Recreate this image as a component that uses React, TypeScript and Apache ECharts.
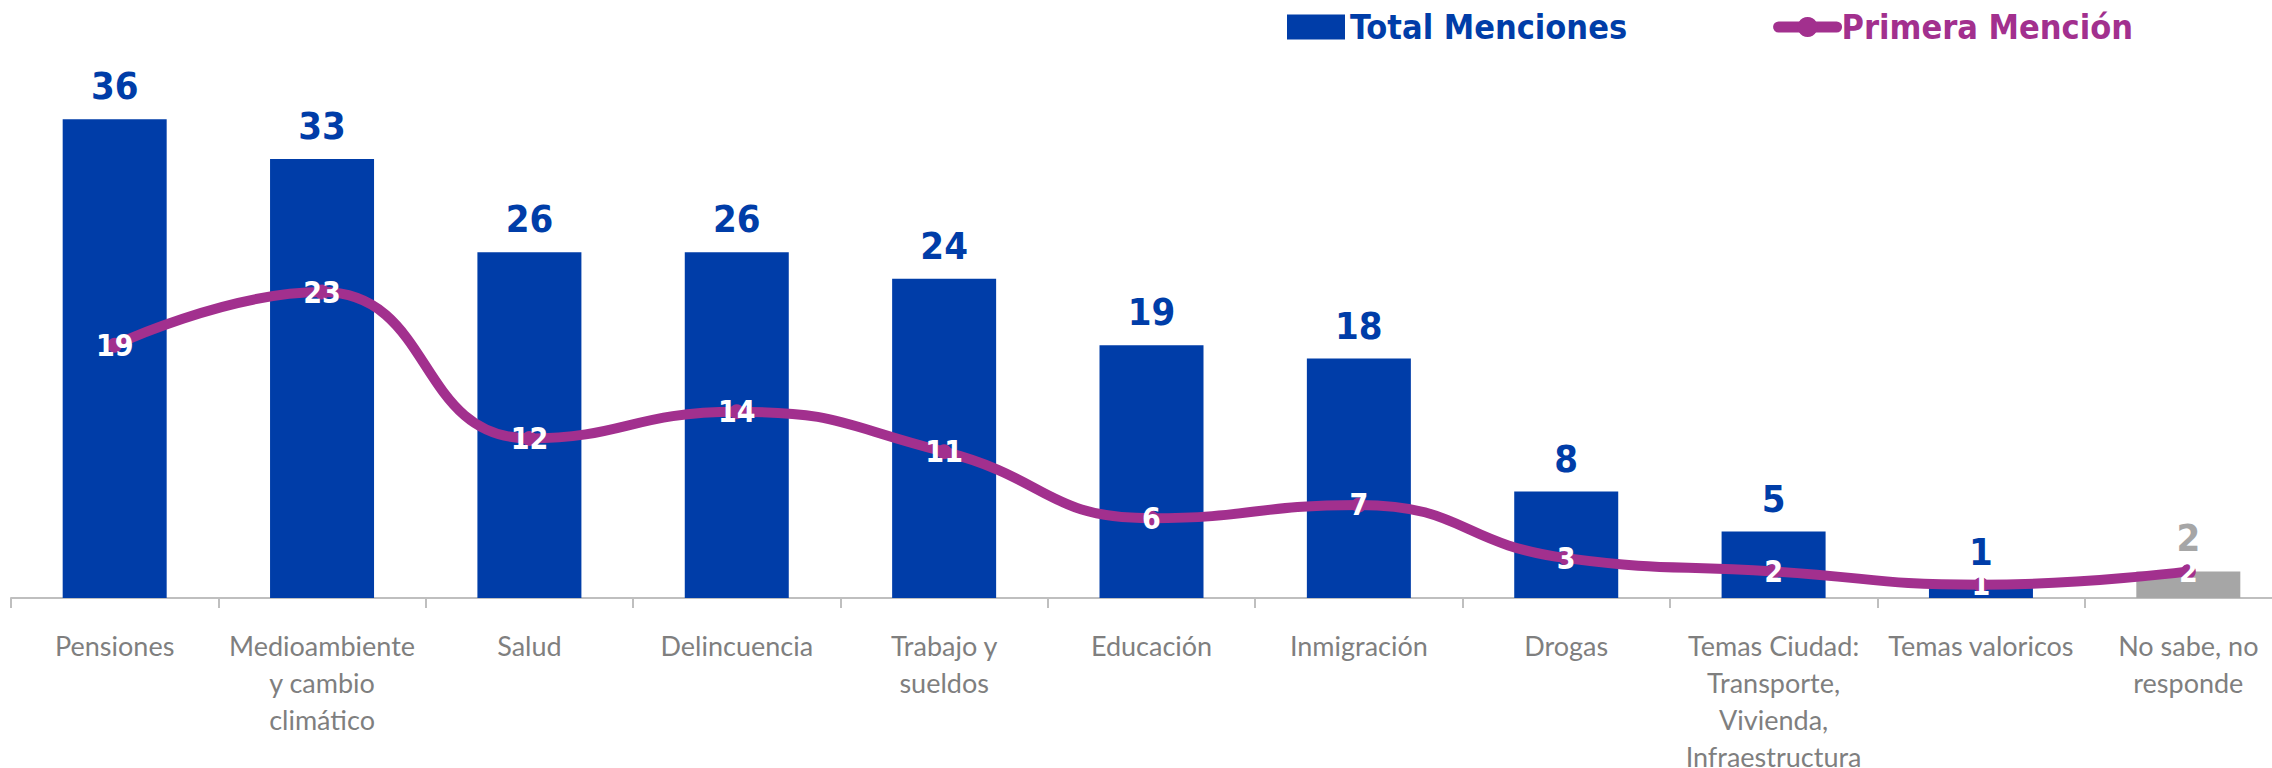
import React, { useEffect, useRef } from "react";
import * as echarts from "echarts";

const categories = [
  "Pensiones",
  "Medioambiente\ny cambio\nclimático",
  "Salud",
  "Delincuencia",
  "Trabajo y\nsueldos",
  "Educación",
  "Inmigración",
  "Drogas",
  "Temas Ciudad:\nTransporte,\nVivienda,\nInfraestructura",
  "Temas valoricos",
  "No sabe, no\nresponde",
];
const totalMenciones = [36, 33, 26, 26, 24, 19, 18, 8, 5, 1, 2];
const primeraMencion = [19, 23, 12, 14, 11, 6, 7, 3, 2, 1, 2];
const grayIndex = 10;

const BLUE = "#003DA8";
const PURPLE = "#A2308E";
const GRAY = "#A6A6A6";
const LABEL_FONT = "'DejaVu Sans Condensed', 'DejaVu Sans', sans-serif";

export default function App() {
  const ref = useRef<HTMLDivElement>(null);
  useEffect(() => {
    if (!ref.current) return;
    const chart = echarts.init(ref.current, null, { renderer: "svg" });
    chart.setOption({
      animation: false,
      backgroundColor: "#ffffff",
      legend: {
        left: 1287,
        top: 10,
        padding: 0,
        itemGap: 146,
        itemWidth: 58,
        itemHeight: 25,
        textStyle: { fontFamily: LABEL_FONT, fontWeight: "bold", fontSize: 34 },
        data: [
          { name: "Total Menciones", icon: "rect", textStyle: { color: BLUE } },
          {
            name: "Primera Mención",
            textStyle: { color: PURPLE },
            lineStyle: { width: 11, color: PURPLE, cap: "round" },
            itemStyle: { color: PURPLE },
          },
        ],
      },
      grid: {
        left: 11,
        top: 66,
        width: 2281,
        height: 532,
        outerBoundsMode: "none",
        containLabel: false,
      },
      xAxis: {
        type: "category",
        data: categories,
        axisLine: { lineStyle: { color: "#BFBFBF", width: 2 } },
        axisTick: { show: true, length: 10, lineStyle: { color: "#BFBFBF", width: 2 } },
        axisLabel: {
          interval: 0,
          margin: 29,
          color: "#7F7F7F",
          fontFamily: "Lato, 'Noto Sans', sans-serif",
          fontSize: 27,
          lineHeight: 37,
        },
      },
      yAxis: { type: "value", min: 0, max: 40, show: false, splitLine: { show: false } },
      series: [
        {
          name: "Total Menciones",
          type: "bar",
          barWidth: 104,
          itemStyle: { color: BLUE },
          data: totalMenciones.map((v, i) =>
            i === grayIndex
              ? { value: v, itemStyle: { color: GRAY }, label: { color: GRAY } }
              : v
          ),
          label: {
            show: true,
            position: "top",
            distance: 14,
            color: BLUE,
            fontFamily: LABEL_FONT,
            fontWeight: "bold",
            fontSize: 38,
          },
          z: 2,
        },
        {
          name: "Primera Mención",
          type: "line",
          smooth: 0.5,
          symbol: "circle",
          symbolSize: 15,
          itemStyle: { color: PURPLE },
          lineStyle: { color: PURPLE, width: 10 },
          data: primeraMencion,
          label: {
            show: true,
            position: "inside",
            color: "#ffffff",
            fontFamily: LABEL_FONT,
            fontWeight: "bold",
            fontSize: 30,
          },
          z: 3,
        },
      ],
    });
    return () => chart.dispose();
  }, []);
  return (
    <div
      ref={ref}
      style={{ position: "absolute", left: 0, top: 0, width: 2272, height: 768 }}
    />
  );
}
